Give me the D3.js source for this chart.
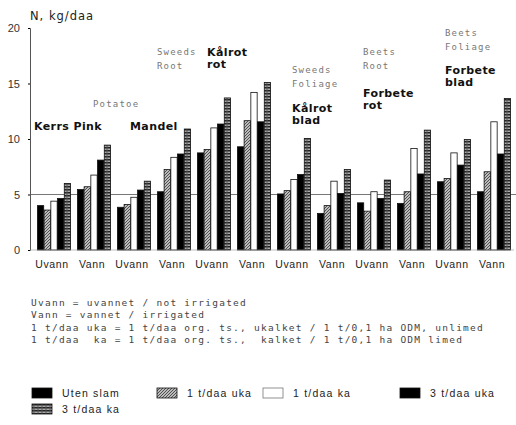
<!DOCTYPE html>
<html>
<head>
<meta charset="utf-8">
<script src="https://cdnjs.cloudflare.com/ajax/libs/d3/7.8.5/d3.min.js"></script>
<style>
  body { margin: 0; background: #fff; }
  svg { display: block; }
  .tick text { font-family: "Liberation Sans", Arial, sans-serif; font-size: 11px; fill: #333; }
</style>
</head>
<body>
<script>
// categories (Uvann = not irrigated, Vann = irrigated), two per crop
var categories = ["Uvann", "Vann", "Uvann", "Vann", "Uvann", "Vann",
                  "Uvann", "Vann", "Uvann", "Vann", "Uvann", "Vann"];
var seriesNames = ["Uten slam", "1 t/daa uka", "1 t/daa ka", "3 t/daa uka", "3 t/daa ka"];

// N, kg/daa
var utenSlam = [4.0, 5.45, 3.85, 5.25, 8.75, 9.3, 5.05, 3.3, 4.25, 4.2, 6.15, 5.25];
var uka1     = [3.6, 5.7, 4.1, 7.25, 9.05, 11.65, 5.35, 4.0, 3.5, 5.25, 6.45, 7.05];
var ka1      = [4.4, 6.75, 4.75, 8.35, 11.0, 14.2, 6.35, 6.2, 5.25, 9.15, 8.75, 11.55];
var uka3     = [4.65, 8.1, 5.4, 8.65, 11.35, 11.55, 6.8, 5.1, 4.65, 6.85, 7.65, 8.65];
var ka3      = [6.0, 9.45, 6.2, 10.9, 13.7, 15.1, 10.05, 7.25, 6.3, 10.8, 9.95, 13.65];
var yTicks = [0, 5, 10, 15, 20];
var refValue = 5;

var notes = [
  "Uvann = uvannet / not irrigated",
  "Vann = vannet / irrigated",
  "1 t/daa uka = 1 t/daa org. ts., ukalket / 1 t/0,1 ha ODM, unlimed",
  "1 t/daa  ka = 1 t/daa org. ts.,  kalket / 1 t/0,1 ha ODM limed"
];

var allSeries = [utenSlam, uka1, ka1, uka3, ka3];
var fills = ["#000", "url(#hatch)", "#fff", "#000", "url(#stripe)"];

var width = 516, height = 425;
var svg = d3.select("body").append("svg")
  .attr("width", width)
  .attr("height", height);

// patterns
var defs = svg.append("defs");
var hatch = defs.append("pattern").attr("id", "hatch")
  .attr("patternUnits", "userSpaceOnUse").attr("width", 3).attr("height", 3);
hatch.append("rect").attr("width", 3).attr("height", 3).attr("fill", "#bbb");
hatch.append("path").attr("d", "M0,3 L3,0").attr("stroke", "#444").attr("stroke-width", 0.9);
var stripe = defs.append("pattern").attr("id", "stripe")
  .attr("patternUnits", "userSpaceOnUse").attr("width", 4).attr("height", 3);
stripe.append("rect").attr("width", 4).attr("height", 3).attr("fill", "#aaa");
stripe.append("rect").attr("width", 4).attr("height", 1.5).attr("fill", "#222");
stripe.append("rect").attr("x", 1.5).attr("width", 1).attr("height", 3).attr("fill", "#555");

var x = d3.scaleBand().domain(d3.range(categories.length))
  .range([34, 514]).paddingInner(0.15).paddingOuter(0.075);
var xs = d3.scaleBand().domain(d3.range(seriesNames.length))
  .range([0, x.bandwidth()]).padding(0.06);
var y = d3.scaleLinear().domain([0, 20]).range([250, 28]);

// reference line at 5
svg.append("line")
  .attr("x1", 30).attr("x2", 516)
  .attr("y1", y(refValue)).attr("y2", y(refValue))
  .attr("stroke", "#777").attr("stroke-width", 1);

// bars
var groups = svg.selectAll("g.grp")
  .data(categories)
  .enter().append("g")
  .attr("class", "grp")
  .attr("transform", function(d, i) { return "translate(" + x(i) + ",0)"; });

groups.selectAll("rect")
  .data(function(d, i) {
    return allSeries.map(function(s, k) { return {k: k, v: s[i]}; });
  })
  .enter().append("rect")
  .attr("x", function(d) { return xs(d.k); })
  .attr("y", function(d) { return y(d.v); })
  .attr("width", xs.bandwidth())
  .attr("height", function(d) { return y(0) - y(d.v); })
  .attr("fill", function(d) { return fills[d.k]; })
  .attr("stroke", "#111")
  .attr("stroke-width", 0.8);

// y axis
var yAxis = svg.append("g")
  .attr("transform", "translate(30,0)")
  .call(d3.axisLeft(y).tickValues(yTicks).tickSize(2).tickPadding(8));
yAxis.select(".domain").attr("stroke", "#555");

// baseline
svg.append("line")
  .attr("x1", 30).attr("x2", 514)
  .attr("y1", y(0)).attr("y2", y(0))
  .attr("stroke", "#999").attr("stroke-width", 0.6);

// x labels
svg.selectAll("text.cat")
  .data(categories)
  .enter().append("text")
  .attr("class", "cat")
  .attr("x", function(d, i) { return x(i) + x.bandwidth() / 2 - 2; })
  .attr("y", 268)
  .attr("text-anchor", "middle")
  .style("font-family", "'Liberation Sans', Arial, sans-serif")
  .style("font-size", "10.5px")
  .style("letter-spacing", "0.6px")
  .style("fill", "#222")
  .text(function(d) { return d; });

// y title
svg.append("text")
  .attr("x", 30).attr("y", 20)
  .style("font-family", "'DejaVu Sans', sans-serif")
  .style("font-size", "11.5px")
  .style("letter-spacing", "1px")
  .style("fill", "#222")
  .text("N, kg/daa");

// crop labels: english in grey, norwegian in bold
var engLabels = [
  {x: 93, y: 107, lines: ["Potatoe"]},
  {x: 157, y: 55, lines: ["Sweeds", "Root"]},
  {x: 292, y: 73, lines: ["Sweeds", "Foliage"]},
  {x: 363, y: 55, lines: ["Beets", "Root"]},
  {x: 445, y: 36, lines: ["Beets", "Foliage"]}
];
var norLabels = [
  {x: 34, y: 130, lines: ["Kerrs Pink"]},
  {x: 130, y: 130, lines: ["Mandel"]},
  {x: 207, y: 56, lines: ["Kålrot", "rot"]},
  {x: 292, y: 112, lines: ["Kålrot", "blad"]},
  {x: 363, y: 97, lines: ["Forbete", "rot"]},
  {x: 445, y: 74, lines: ["Forbete", "blad"]}
];

engLabels.forEach(function(l) {
  l.lines.forEach(function(t, j) {
    svg.append("text")
      .attr("x", l.x).attr("y", l.y + j * 13.5)
      .style("font-family", "'DejaVu Sans Mono', monospace")
      .style("font-size", "9px")
      .style("letter-spacing", "1.2px")
      .style("fill", "#777")
      .text(t);
  });
});
norLabels.forEach(function(l) {
  l.lines.forEach(function(t, j) {
    svg.append("text")
      .attr("x", l.x).attr("y", l.y + j * 12)
      .style("font-family", "'DejaVu Sans', sans-serif")
      .style("font-weight", "bold")
      .style("font-size", "11px")
      .style("letter-spacing", "0.4px")
      .style("fill", "#111")
      .text(t);
  });
});

// notes
svg.selectAll("text.note")
  .data(notes)
  .enter().append("text")
  .attr("class", "note")
  .attr("x", 31)
  .attr("y", function(d, i) { return 306 + i * 12.3; })
  .attr("xml:space", "preserve")
  .style("white-space", "pre")
  .style("font-family", "'DejaVu Sans Mono', monospace")
  .style("font-size", "9.5px")
  .style("letter-spacing", "1.25px")
  .style("fill", "#444")
  .text(function(d) { return d; });

// legend
var legendPos = [[32, 388], [157, 388], [263, 388], [400, 388], [32, 404]];
var legend = svg.selectAll("g.leg")
  .data(seriesNames)
  .enter().append("g")
  .attr("class", "leg")
  .attr("transform", function(d, i) { return "translate(" + legendPos[i][0] + "," + legendPos[i][1] + ")"; });
legend.append("rect")
  .attr("width", 20).attr("height", 10)
  .attr("fill", function(d, i) { return fills[i]; })
  .attr("stroke", function(d, i) { return i === 2 ? "#777" : "#111"; })
  .attr("stroke-width", 0.8);
legend.append("text")
  .attr("x", 30).attr("y", 9)
  .style("font-family", "'Liberation Sans', Arial, sans-serif")
  .style("font-size", "10.5px")
  .style("letter-spacing", "1.2px")
  .style("fill", "#222")
  .text(function(d) { return d; });
</script>
</body>
</html>
